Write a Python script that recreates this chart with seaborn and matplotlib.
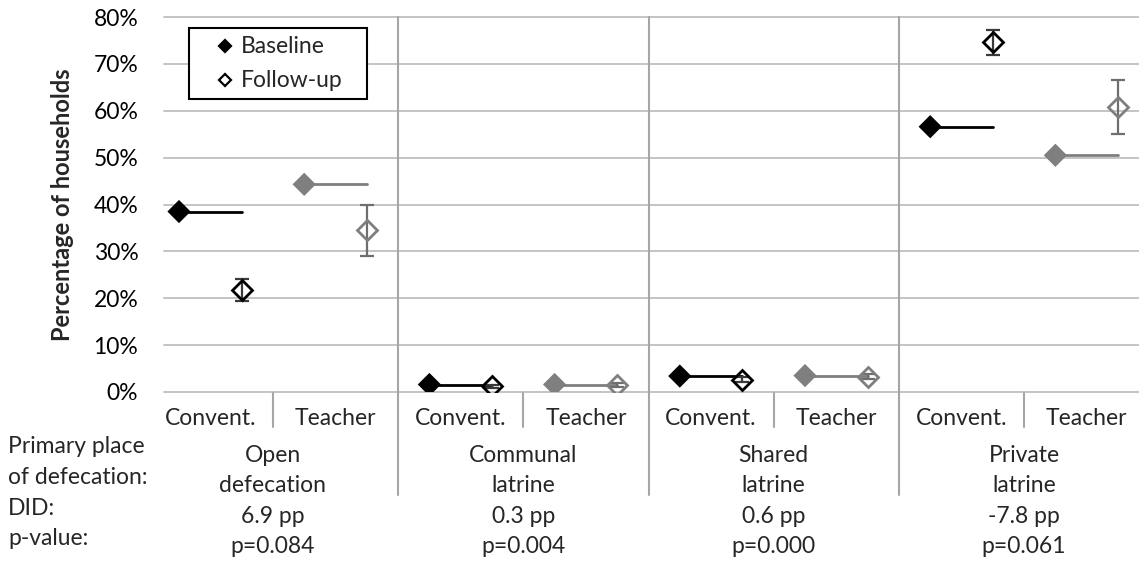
import numpy as np
import pandas as pd
import matplotlib
matplotlib.use("Agg")
import matplotlib.pyplot as plt
import matplotlib.transforms as mtransforms
from matplotlib.lines import Line2D
from matplotlib.patches import Rectangle
import seaborn as sns

# ---- data -------------------------------------------------------------
places = ["Open\ndefecation", "Communal\nlatrine", "Shared\nlatrine", "Private\nlatrine"]
arms = ["Convent.", "Teacher"]

conv_baseline = [38.5, 1.6, 3.4, 56.6]
conv_followup = [21.8, 1.2, 2.6, 74.6]
conv_ci_low = [19.4, 0.8, 2.1, 72.0]
conv_ci_high = [24.2, 1.6, 3.1, 77.2]

teach_baseline = [44.3, 1.6, 3.5, 50.5]
teach_followup = [34.5, 1.5, 3.3, 60.7]
teach_ci_low = [29.0, 1.0, 2.7, 55.0]
teach_ci_high = [39.9, 2.0, 3.9, 66.6]

did_labels = ["6.9 pp", "0.3 pp", "0.6 pp", "-7.8 pp"]
p_labels = ["p=0.084", "p=0.004", "p=0.000", "p=0.061"]
row_labels = ["Primary place", "of defecation:", "DID:", "p-value:"]
legend_labels = ["Baseline", "Follow-up"]
yticks = [0, 10, 20, 30, 40, 50, 60, 70, 80]

# ---- tidy table ---------------------------------------------------------
rows = []
for g, place in enumerate(places):
    for a, arm in enumerate(arms):
        base = (conv_baseline if a == 0 else teach_baseline)[g]
        fol = (conv_followup if a == 0 else teach_followup)[g]
        lo = (conv_ci_low if a == 0 else teach_ci_low)[g]
        hi = (conv_ci_high if a == 0 else teach_ci_high)[g]
        x0 = g * 4 + a * 2
        rows.append(dict(place=place, arm=arm, x_base=x0, x_fol=x0 + 1,
                         baseline=base, followup=fol, lo=lo, hi=hi))
df = pd.DataFrame(rows)

seg = pd.concat([
    df.assign(x=df.x_base, y=df.baseline, seg=df.index),
    df.assign(x=df.x_fol, y=df.baseline, seg=df.index),
])

# ---- style --------------------------------------------------------------
sns.set_theme(style="white")
plt.rcParams["font.family"] = ["Lato", "DejaVu Sans"]
FS = 16.5
colors = {"Convent.": "#000000", "Teacher": "#7f7f7f"}
err_colors = {"Convent.": "#3a3a3a", "Teacher": "#6e6e6e"}
grid_c = "#bfbfbf"
sep_c = "#a6a6a6"

W, H = 1139, 573
fig = plt.figure(figsize=(W / 100, H / 100), dpi=100)
left_px, right_px, top_px, bot_px = 164, 1139, 17, 392
ax = fig.add_axes([left_px / W, 1 - bot_px / H,
                   (right_px - left_px) / W, (bot_px - top_px) / H])

unit = 62.6
xmin = -(179 - left_px) / unit
ax.set_xlim(xmin, xmin + (right_px - left_px) / unit)
ax.set_ylim(0, 80)

for v in yticks:
    ax.axhline(v, color=grid_c, lw=1.3, zorder=0, clip_on=False)

# baseline level carried across to the follow-up position
sns.lineplot(data=seg, x="x", y="y", hue="arm", units="seg", estimator=None,
             palette=colors, lw=2.0, legend=False, ax=ax, zorder=2)
sns.scatterplot(data=df, x="x_base", y="baseline", hue="arm", palette=colors,
                marker="D", s=140, linewidth=0, legend=False, ax=ax, zorder=3)

for arm in arms:
    d = df[df.arm == arm]
    ax.errorbar(d.x_fol, d.followup,
                yerr=[d.followup - d.lo, d.hi - d.followup],
                fmt="none", ecolor=err_colors[arm], elinewidth=1.6,
                capsize=5, capthick=1.6, zorder=3)
    ax.plot(d.x_fol, d.followup, linestyle="none", marker="D", ms=10.5,
            mfc="none", mec=colors[arm], mew=2.0, zorder=4)

ax.set_yticks(yticks)
ax.set_yticklabels([f"{v}%" for v in yticks], fontsize=FS, color="#000000")
ax.set_xticks([])
ax.tick_params(axis="y", length=0, pad=18.5)
ax.set_xlabel("")
ax.set_ylabel("")
for s in ax.spines.values():
    s.set_visible(False)


def fx(px):
    return px / W


def fy(px):
    return 1 - px / H


fig.text(fx(63), fy(205), "Percentage of households", rotation=90,
         ha="center", va="center", fontsize=17, fontweight="bold")

# group separators and arm separators
blend = mtransforms.blended_transform_factory(ax.transData, fig.transFigure)
for g in range(1, 4):
    ax.add_line(Line2D([g * 4 - 0.5] * 2, [fy(top_px), fy(495)], transform=blend,
                       color=sep_c, lw=1.5, clip_on=False))
for g in range(4):
    ax.add_line(Line2D([g * 4 + 1.5] * 2, [fy(393), fy(427)], transform=blend,
                       color=sep_c, lw=1.5, clip_on=False))

# category and group labels under the plot
for g, place in enumerate(places):
    for a, arm in enumerate(arms):
        ax.text(g * 4 + a * 2 + 0.5, fy(425), arm, transform=blend,
                ha="center", va="baseline", fontsize=FS)
    line1, line2 = place.split("\n")
    for txt, ypx in zip([line1, line2, did_labels[g], p_labels[g]],
                        [462, 492, 523, 553]):
        ax.text(g * 4 + 1.5, fy(ypx), txt, transform=blend,
                ha="center", va="baseline", fontsize=FS)

for txt, ypx in zip(row_labels, [453, 484, 515, 545]):
    fig.text(fx(8), fy(ypx), txt, ha="left", va="baseline", fontsize=FS)

# legend box
fig.patches.append(Rectangle((fx(189), fy(99)), fx(367) - fx(189), fy(28) - fy(99),
                             transform=fig.transFigure, facecolor="white",
                             edgecolor="#000000", lw=1.5, zorder=5))
for i, (lab, ypx, base_px) in enumerate(zip(legend_labels, [46, 80], [53, 87])):
    fig.add_artist(Line2D([fx(225)], [fy(ypx)], transform=fig.transFigure,
                          linestyle="none", marker="D", ms=6.5,
                          mfc="#000000" if i == 0 else "white",
                          mec="#000000", mew=1.6, zorder=6))
    fig.text(fx(241), fy(base_px), lab, ha="left", va="baseline",
             fontsize=FS, zorder=6)

fig.savefig("out.png", dpi=100)
